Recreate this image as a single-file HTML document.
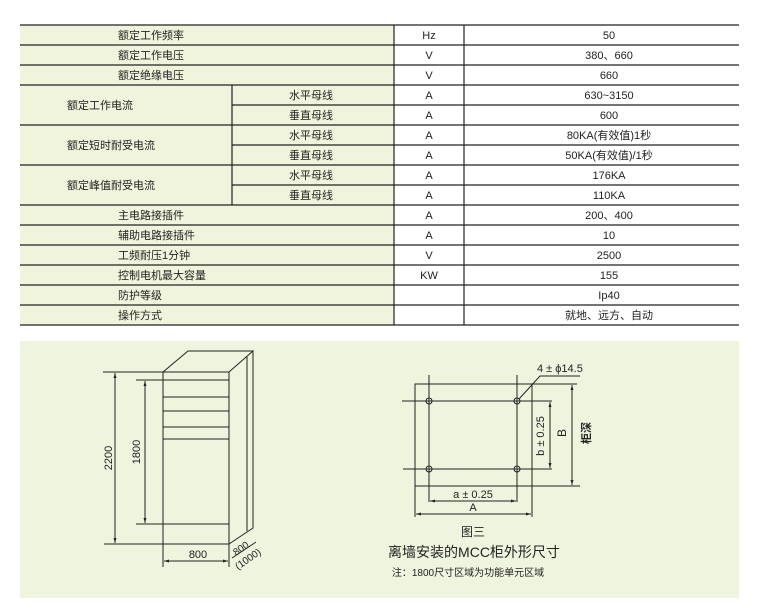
<!DOCTYPE html>
<html><head><meta charset="utf-8"><style>
html,body{margin:0;padding:0;background:#fff;}
svg{display:block;font-family:"Liberation Sans","Noto Sans CJK SC",sans-serif;}
</style></head><body>
<svg width="764" height="611" viewBox="0 0 764 611" xmlns="http://www.w3.org/2000/svg">
<defs><marker id="a" viewBox="0 0 10 10" refX="10" refY="5" markerWidth="5" markerHeight="5" orient="auto-start-reverse"><path d="M0,2 L10,5 L0,8 z" fill="#222"/></marker></defs>
<!-- table -->
<rect x="20" y="25" width="374" height="300" fill="#f1f4dc"/>
<g stroke="#222" stroke-width="1.2" fill="none">
<line x1="20" y1="25" x2="739" y2="25"/>
<line x1="20" y1="45" x2="739" y2="45"/>
<line x1="20" y1="65" x2="739" y2="65"/>
<line x1="20" y1="85" x2="739" y2="85"/>
<line x1="232" y1="105" x2="739" y2="105"/>
<line x1="20" y1="125" x2="739" y2="125"/>
<line x1="232" y1="145" x2="739" y2="145"/>
<line x1="20" y1="165" x2="739" y2="165"/>
<line x1="232" y1="185" x2="739" y2="185"/>
<line x1="20" y1="205" x2="739" y2="205"/>
<line x1="20" y1="225" x2="739" y2="225"/>
<line x1="20" y1="245" x2="739" y2="245"/>
<line x1="20" y1="265" x2="739" y2="265"/>
<line x1="20" y1="285" x2="739" y2="285"/>
<line x1="20" y1="305" x2="739" y2="305"/>
<line x1="20" y1="325" x2="739" y2="325"/>
<line x1="394" y1="25" x2="394" y2="325"/>
<line x1="464" y1="25" x2="464" y2="325"/>
<line x1="232" y1="85" x2="232" y2="205"/>
</g>
<g font-size="11" fill="#222">
<text x="118" y="39">额定工作频率</text>
<text x="118" y="59">额定工作电压</text>
<text x="118" y="79">额定绝缘电压</text>
<text x="67" y="109">额定工作电流</text>
<text x="67" y="149">额定短时耐受电流</text>
<text x="67" y="189">额定峰值耐受电流</text>
<text x="118" y="219">主电路接插件</text>
<text x="118" y="239">辅助电路接插件</text>
<text x="118" y="259">工频耐压1分钟</text>
<text x="118" y="279">控制电机最大容量</text>
<text x="118" y="299">防护等级</text>
<text x="118" y="319">操作方式</text>
<g text-anchor="middle">
<text x="311" y="99">水平母线</text><text x="311" y="119">垂直母线</text>
<text x="311" y="139">水平母线</text><text x="311" y="159">垂直母线</text>
<text x="311" y="179">水平母线</text><text x="311" y="199">垂直母线</text>
<text x="429" y="39">Hz</text><text x="429" y="59">V</text><text x="429" y="79">V</text>
<text x="429" y="99">A</text><text x="429" y="119">A</text><text x="429" y="139">A</text>
<text x="429" y="159">A</text><text x="429" y="179">A</text><text x="429" y="199">A</text>
<text x="429" y="219">A</text><text x="429" y="239">A</text><text x="429" y="259">V</text>
<text x="429" y="279">KW</text>
<text x="609" y="39">50</text><text x="609" y="59">380、660</text><text x="609" y="79">660</text>
<text x="609" y="99">630~3150</text><text x="609" y="119">600</text>
<text x="609" y="139">80KA(有效值)1秒</text><text x="609" y="159">50KA(有效值)/1秒</text>
<text x="609" y="179">176KA</text><text x="609" y="199">110KA</text>
<text x="609" y="219">200、400</text><text x="609" y="239">10</text>
<text x="609" y="259">2500</text><text x="609" y="279">155</text>
<text x="609" y="299">Ip40</text><text x="609" y="319">就地、远方、自动</text>
</g></g>
<!-- panel -->
<rect x="20" y="341" width="719" height="257" fill="#eff4df"/>
<!-- cabinet -->
<g stroke="#222" stroke-width="1" fill="none">
<rect x="163" y="372" width="66" height="172"/>
<polyline points="163,372 188,351 253,351 229,372"/>
<polyline points="253,351 253,528 229,544"/>
<line x1="247" y1="357" x2="247" y2="531"/>
<line x1="163" y1="380" x2="229" y2="380"/>
<line x1="163" y1="397" x2="229" y2="397"/>
<line x1="163" y1="411" x2="229" y2="411"/>
<line x1="163" y1="427" x2="229" y2="427"/>
<line x1="163" y1="439" x2="229" y2="439"/>
<line x1="163" y1="524" x2="229" y2="524"/>
<line x1="103" y1="372" x2="163" y2="372"/>
<line x1="104" y1="544" x2="163" y2="544"/>
<line x1="115" y1="373" x2="115" y2="543" marker-start="url(#a)" marker-end="url(#a)"/>
<line x1="136" y1="380" x2="163" y2="380"/>
<line x1="136" y1="524" x2="163" y2="524"/>
<line x1="145" y1="381" x2="145" y2="523" marker-start="url(#a)" marker-end="url(#a)"/>
<line x1="163" y1="544" x2="163" y2="567"/>
<line x1="229" y1="544" x2="229" y2="567"/>
<line x1="164" y1="561" x2="228" y2="561" marker-start="url(#a)" marker-end="url(#a)"/>
<line x1="232" y1="558" x2="256" y2="542"/>
</g>
<g font-size="11" fill="#222">
<text transform="translate(112,458) rotate(-90)" text-anchor="middle">2200</text>
<text transform="translate(140,452) rotate(-90)" text-anchor="middle">1800</text>
<text x="198" y="558" text-anchor="middle">800</text>
<text transform="translate(236,556) rotate(-35)" font-size="10">800</text>
<text transform="translate(238,570) rotate(-35)" font-size="10">(1000)</text>
</g>
<!-- plan view -->
<g stroke="#222" stroke-width="1" fill="none">
<rect x="415" y="384" width="117" height="102"/>
<line x1="429" y1="375" x2="429" y2="502"/>
<line x1="517" y1="375" x2="517" y2="502"/>
<line x1="402" y1="401" x2="552" y2="401"/>
<line x1="403" y1="469" x2="552" y2="469"/>
<circle cx="429" cy="401" r="3"/><circle cx="517" cy="401" r="3"/>
<circle cx="429" cy="469" r="3"/><circle cx="517" cy="469" r="3"/>
<line x1="532" y1="384" x2="577" y2="384"/>
<line x1="532" y1="486" x2="580" y2="486"/>
<line x1="572" y1="385" x2="572" y2="485" marker-start="url(#a)" marker-end="url(#a)"/>
<line x1="550" y1="402" x2="550" y2="468" marker-start="url(#a)" marker-end="url(#a)"/>
<line x1="430" y1="501" x2="516" y2="501" marker-start="url(#a)" marker-end="url(#a)"/>
<line x1="415" y1="486" x2="415" y2="517"/>
<line x1="532" y1="486" x2="532" y2="517"/>
<line x1="416" y1="514" x2="531" y2="514" marker-start="url(#a)" marker-end="url(#a)"/>
<polyline points="519,399 540,376 580,376"/>
</g>
<g font-size="11" fill="#222">
<text x="537" y="372">4 ± ϕ14.5</text>
<text transform="translate(544,436) rotate(-90)" text-anchor="middle">b ± 0.25</text>
<text transform="translate(566,433) rotate(-90)" text-anchor="middle" font-size="12">B</text>
<text transform="translate(590,433) rotate(-90)" text-anchor="middle" font-size="11" font-weight="bold">柜深</text>
<text x="473" y="498" text-anchor="middle">a ± 0.25</text>
<text x="473" y="511" text-anchor="middle">A</text>
<text x="473" y="536" text-anchor="middle" font-size="12">图三</text>
<text x="474" y="557" text-anchor="middle" font-size="14">离墙安装的MCC柜外形尺寸</text>
<text x="468" y="576" text-anchor="middle" font-size="10">注：1800尺寸区域为功能单元区域</text>
</g>
</svg>
</body></html>
